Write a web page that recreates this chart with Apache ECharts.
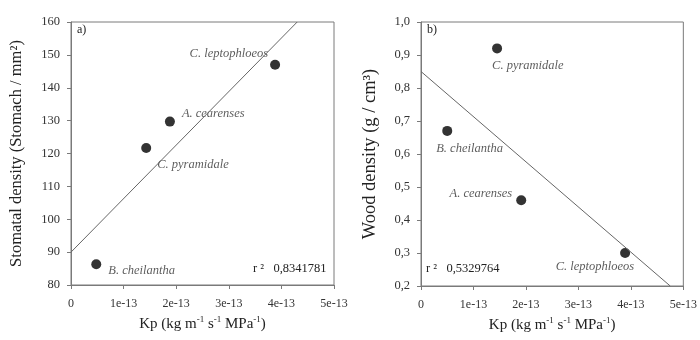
<!DOCTYPE html>
<html>
<head>
<meta charset="utf-8">
<script src="https://cdn.jsdelivr.net/npm/echarts@6/dist/echarts.min.js"></script>
<style>
  html, body { margin: 0; padding: 0; background: #fff; }
  #chart { width: 700px; height: 340px; }
</style>
</head>
<body>
<div id="chart"></div>
<script>
// species names (same order for both panels)
const species = ["B. cheilantha", "C. pyramidale", "A. cearenses", "C. leptophloeos"];

// Kp values
const kpStomata = [0.48e-13, 1.43e-13, 1.88e-13, 3.88e-13];
const kpWood = [0.50e-13, 1.45e-13, 1.91e-13, 3.89e-13];

// panel a) stomatal density, panel b) wood density
const stomatalDensity = [86.3, 121.7, 129.7, 147.0];
const woodDensity = [0.67, 0.92, 0.46, 0.30];

// regression line end points
const fitStomata = [[0, 90], [4.3e-13, 160]];
const fitWood = [[0, 0.85], [4.75e-13, 0.2]];

const r2Stomata = "0,8341781";
const r2Wood = "0,5329764";

const xTicks = ["0", "1e-13", "2e-13", "3e-13", "4e-13", "5e-13"];

// label placement per species (kept apart from the data)
const labelPosA = {
  "B. cheilantha": ["right", [2, 6]],
  "C. pyramidale": ["right", [1, 17]],
  "A. cearenses": ["right", [2, -8]],
  "C. leptophloeos": ["left", [3, -11]]
};
const labelPosB = {
  "B. cheilantha": ["right", [-21, 18]],
  "C. pyramidale": ["right", [-15, 17]],
  "A. cearenses": ["left", [1, -6]],
  "C. leptophloeos": ["left", [19, 14]]
};

const FONT = "Liberation Serif";
const axisGray = "#7a7a7a";

function points(xs, ys, pos) {
  return species.map((name, i) => ({
    value: [xs[i], ys[i]],
    label: {
      show: true,
      formatter: name,
      position: pos[name][0],
      offset: pos[name][1],
      fontFamily: FONT,
      fontStyle: "italic",
      fontSize: 12.5,
      color: "#333"
    }
  }));
}

const kpName = "{t|Kp (kg m}{s|-1}{t| s}{s|-1}{t| MPa}{s|-1}{t|)}";
const kpRich = {
  t: { fontFamily: FONT, fontSize: 15, color: "#222" },
  s: { fontFamily: FONT, fontSize: 9, color: "#222", padding: [0, 0, 9, 0] }
};

function xAxis(idx) {
  return {
    type: "value",
    gridIndex: idx,
    min: 0,
    max: 5e-13,
    interval: 1e-13,
    name: kpName,
    nameLocation: "middle",
    nameGap: 26,
    nameTextStyle: { rich: kpRich },
    axisLine: { lineStyle: { color: axisGray } },
    axisTick: { show: true, length: 4, lineStyle: { color: axisGray } },
    splitLine: { show: false },
    axisLabel: {
      fontFamily: FONT, fontSize: 12, color: "#333", margin: 13,
      formatter: v => xTicks[Math.round(v / 1e-13)]
    }
  };
}

function yAxis(idx, min, max, interval, name, fmt, gap, nameSize) {
  return {
    type: "value",
    gridIndex: idx,
    min: min,
    max: max,
    interval: interval,
    name: name,
    nameLocation: "middle",
    nameGap: gap,
    nameTextStyle: { fontFamily: FONT, fontSize: nameSize, color: "#222" },
    axisLine: { show: true, lineStyle: { color: axisGray } },
    axisTick: { show: true, length: 4, lineStyle: { color: axisGray } },
    splitLine: { show: false },
    axisLabel: { fontFamily: FONT, fontSize: 12.5, color: "#333", margin: 11, formatter: fmt }
  };
}

const chart = echarts.init(document.getElementById("chart"));
chart.setOption({
  backgroundColor: "#fff",
  animation: false,
  grid: [
    { left: 71, top: 22, width: 263, height: 263, show: true, borderColor: axisGray, borderWidth: 1, backgroundColor: "transparent" },
    { left: 421, top: 22, width: 264, height: 264, show: true, borderColor: axisGray, borderWidth: 1, backgroundColor: "transparent" }
  ],
  xAxis: [xAxis(0), xAxis(1)],
  yAxis: [
    yAxis(0, 80, 160, 10, "Stomatal density (Stomach / mm²)", v => String(v), 46, 16.5),
    yAxis(1, 0.2, 1.0, 0.1, "Wood density (g / cm³)", v => v.toFixed(1).replace(".", ","), 41, 18.5)
  ],
  graphic: [
    { type: "text", left: 77, top: 24, style: { text: "a)", font: "12px " + FONT, fill: "#222" } },
    { type: "text", left: 427, top: 24, style: { text: "b)", font: "12px " + FONT, fill: "#222" } },
    { type: "text", left: 253, top: 262, style: { text: "r ²   " + r2Stomata, font: "12.5px " + FONT, fill: "#222" } },
    { type: "text", left: 426, top: 262, style: { text: "r ²   " + r2Wood, font: "12.5px " + FONT, fill: "#222" } }
  ],
  series: [
    {
      type: "line", xAxisIndex: 0, yAxisIndex: 0, data: fitStomata,
      symbol: "none", lineStyle: { color: "#666", width: 1 }, silent: true
    },
    {
      type: "scatter", xAxisIndex: 0, yAxisIndex: 0, symbolSize: 10,
      itemStyle: { color: "#000" }, data: points(kpStomata, stomatalDensity, labelPosA)
    },
    {
      type: "line", xAxisIndex: 1, yAxisIndex: 1, data: fitWood,
      symbol: "none", lineStyle: { color: "#666", width: 1 }, silent: true
    },
    {
      type: "scatter", xAxisIndex: 1, yAxisIndex: 1, symbolSize: 10,
      itemStyle: { color: "#000" }, data: points(kpWood, woodDensity, labelPosB)
    }
  ]
});
</script>
</body>
</html>
